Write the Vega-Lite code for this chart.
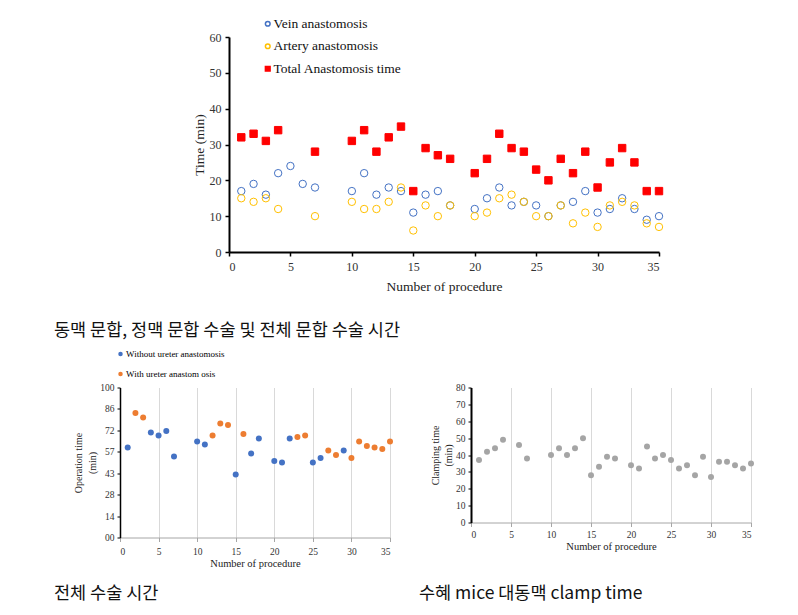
{
  "$schema": "https://vega.github.io/schema/vega-lite/v6.json",
  "background": "white",
  "padding": {"left": 54, "top": 17, "right": 5, "bottom": 5},
  "autosize": {"type": "pad"},
  "config": {
    "view": {"stroke": null},
    "font": "Liberation Serif",
    "axis": {"labelFont": "Liberation Serif", "titleFont": "Liberation Serif", "titleFontWeight": "normal", "labelColor": "#333333", "titleColor": "#222222"},
    "legend": {"labelFont": "Liberation Serif", "labelColor": "#111111", "padding": 0},
    "title": {"font": "Noto Sans CJK KR", "fontWeight": "normal", "color": "#111111", "fontSize": 17.5, "orient": "bottom", "anchor": "start", "frame": "group"}
  },
  "datasets": {
    "anast": [
      {"n": 1, "s": "Vein anastomosis", "t": 17}, {"n": 2, "s": "Vein anastomosis", "t": 19}, {"n": 3, "s": "Vein anastomosis", "t": 16}, {"n": 4, "s": "Vein anastomosis", "t": 22}, {"n": 5, "s": "Vein anastomosis", "t": 24}, {"n": 6, "s": "Vein anastomosis", "t": 19}, {"n": 7, "s": "Vein anastomosis", "t": 18}, {"n": 10, "s": "Vein anastomosis", "t": 17}, {"n": 11, "s": "Vein anastomosis", "t": 22}, {"n": 12, "s": "Vein anastomosis", "t": 16}, {"n": 13, "s": "Vein anastomosis", "t": 18}, {"n": 14, "s": "Vein anastomosis", "t": 17}, {"n": 15, "s": "Vein anastomosis", "t": 11}, {"n": 16, "s": "Vein anastomosis", "t": 16}, {"n": 17, "s": "Vein anastomosis", "t": 17}, {"n": 18, "s": "Vein anastomosis", "t": 13}, {"n": 20, "s": "Vein anastomosis", "t": 12}, {"n": 21, "s": "Vein anastomosis", "t": 15}, {"n": 22, "s": "Vein anastomosis", "t": 18}, {"n": 23, "s": "Vein anastomosis", "t": 13}, {"n": 24, "s": "Vein anastomosis", "t": 14}, {"n": 25, "s": "Vein anastomosis", "t": 13}, {"n": 26, "s": "Vein anastomosis", "t": 10}, {"n": 27, "s": "Vein anastomosis", "t": 13}, {"n": 28, "s": "Vein anastomosis", "t": 14}, {"n": 29, "s": "Vein anastomosis", "t": 17}, {"n": 30, "s": "Vein anastomosis", "t": 11}, {"n": 31, "s": "Vein anastomosis", "t": 12}, {"n": 32, "s": "Vein anastomosis", "t": 15}, {"n": 33, "s": "Vein anastomosis", "t": 12}, {"n": 34, "s": "Vein anastomosis", "t": 9}, {"n": 35, "s": "Vein anastomosis", "t": 10},
      {"n": 1, "s": "Artery anastomosis", "t": 15}, {"n": 2, "s": "Artery anastomosis", "t": 14}, {"n": 3, "s": "Artery anastomosis", "t": 15}, {"n": 4, "s": "Artery anastomosis", "t": 12}, {"n": 7, "s": "Artery anastomosis", "t": 10}, {"n": 10, "s": "Artery anastomosis", "t": 14}, {"n": 11, "s": "Artery anastomosis", "t": 12}, {"n": 12, "s": "Artery anastomosis", "t": 12}, {"n": 13, "s": "Artery anastomosis", "t": 14}, {"n": 14, "s": "Artery anastomosis", "t": 18}, {"n": 15, "s": "Artery anastomosis", "t": 6}, {"n": 16, "s": "Artery anastomosis", "t": 13}, {"n": 17, "s": "Artery anastomosis", "t": 10}, {"n": 18, "s": "Artery anastomosis", "t": 13}, {"n": 20, "s": "Artery anastomosis", "t": 10}, {"n": 21, "s": "Artery anastomosis", "t": 11}, {"n": 22, "s": "Artery anastomosis", "t": 15}, {"n": 23, "s": "Artery anastomosis", "t": 16}, {"n": 24, "s": "Artery anastomosis", "t": 14}, {"n": 25, "s": "Artery anastomosis", "t": 10}, {"n": 26, "s": "Artery anastomosis", "t": 10}, {"n": 27, "s": "Artery anastomosis", "t": 13}, {"n": 28, "s": "Artery anastomosis", "t": 8}, {"n": 29, "s": "Artery anastomosis", "t": 11}, {"n": 30, "s": "Artery anastomosis", "t": 7}, {"n": 31, "s": "Artery anastomosis", "t": 13}, {"n": 32, "s": "Artery anastomosis", "t": 14}, {"n": 33, "s": "Artery anastomosis", "t": 13}, {"n": 34, "s": "Artery anastomosis", "t": 8}, {"n": 35, "s": "Artery anastomosis", "t": 7},
      {"n": 1, "s": "Total Anastomosis time", "t": 32}, {"n": 2, "s": "Total Anastomosis time", "t": 33}, {"n": 3, "s": "Total Anastomosis time", "t": 31}, {"n": 4, "s": "Total Anastomosis time", "t": 34}, {"n": 7, "s": "Total Anastomosis time", "t": 28}, {"n": 10, "s": "Total Anastomosis time", "t": 31}, {"n": 11, "s": "Total Anastomosis time", "t": 34}, {"n": 12, "s": "Total Anastomosis time", "t": 28}, {"n": 13, "s": "Total Anastomosis time", "t": 32}, {"n": 14, "s": "Total Anastomosis time", "t": 35}, {"n": 15, "s": "Total Anastomosis time", "t": 17}, {"n": 16, "s": "Total Anastomosis time", "t": 29}, {"n": 17, "s": "Total Anastomosis time", "t": 27}, {"n": 18, "s": "Total Anastomosis time", "t": 26}, {"n": 20, "s": "Total Anastomosis time", "t": 22}, {"n": 21, "s": "Total Anastomosis time", "t": 26}, {"n": 22, "s": "Total Anastomosis time", "t": 33}, {"n": 23, "s": "Total Anastomosis time", "t": 29}, {"n": 24, "s": "Total Anastomosis time", "t": 28}, {"n": 25, "s": "Total Anastomosis time", "t": 23}, {"n": 26, "s": "Total Anastomosis time", "t": 20}, {"n": 27, "s": "Total Anastomosis time", "t": 26}, {"n": 28, "s": "Total Anastomosis time", "t": 22}, {"n": 29, "s": "Total Anastomosis time", "t": 28}, {"n": 30, "s": "Total Anastomosis time", "t": 18}, {"n": 31, "s": "Total Anastomosis time", "t": 25}, {"n": 32, "s": "Total Anastomosis time", "t": 29}, {"n": 33, "s": "Total Anastomosis time", "t": 25}, {"n": 34, "s": "Total Anastomosis time", "t": 17}, {"n": 35, "s": "Total Anastomosis time", "t": 17}
    ],
    "optime": [
      {"n": 1, "g": "Without ureter anastomosis", "t": 60}, {"n": 4, "g": "Without ureter anastomosis", "t": 70}, {"n": 5, "g": "Without ureter anastomosis", "t": 68}, {"n": 6, "g": "Without ureter anastomosis", "t": 71}, {"n": 7, "g": "Without ureter anastomosis", "t": 54}, {"n": 10, "g": "Without ureter anastomosis", "t": 64}, {"n": 11, "g": "Without ureter anastomosis", "t": 62}, {"n": 15, "g": "Without ureter anastomosis", "t": 42}, {"n": 17, "g": "Without ureter anastomosis", "t": 56}, {"n": 18, "g": "Without ureter anastomosis", "t": 66}, {"n": 20, "g": "Without ureter anastomosis", "t": 51}, {"n": 21, "g": "Without ureter anastomosis", "t": 50}, {"n": 22, "g": "Without ureter anastomosis", "t": 66}, {"n": 25, "g": "Without ureter anastomosis", "t": 50}, {"n": 26, "g": "Without ureter anastomosis", "t": 53}, {"n": 29, "g": "Without ureter anastomosis", "t": 58},
      {"n": 2, "g": "With ureter anastom osis", "t": 83}, {"n": 3, "g": "With ureter anastom osis", "t": 80}, {"n": 12, "g": "With ureter anastom osis", "t": 68}, {"n": 13, "g": "With ureter anastom osis", "t": 76}, {"n": 14, "g": "With ureter anastom osis", "t": 75}, {"n": 16, "g": "With ureter anastom osis", "t": 69}, {"n": 23, "g": "With ureter anastom osis", "t": 67}, {"n": 24, "g": "With ureter anastom osis", "t": 68}, {"n": 27, "g": "With ureter anastom osis", "t": 58}, {"n": 28, "g": "With ureter anastom osis", "t": 55}, {"n": 30, "g": "With ureter anastom osis", "t": 53}, {"n": 31, "g": "With ureter anastom osis", "t": 64}, {"n": 32, "g": "With ureter anastom osis", "t": 61}, {"n": 33, "g": "With ureter anastom osis", "t": 60}, {"n": 34, "g": "With ureter anastom osis", "t": 59}, {"n": 35, "g": "With ureter anastom osis", "t": 64}
    ],
    "clamp": [
      {"n": 1, "t": 37}, {"n": 2, "t": 42}, {"n": 3, "t": 44}, {"n": 4, "t": 49}, {"n": 6, "t": 46}, {"n": 7, "t": 38}, {"n": 10, "t": 40}, {"n": 11, "t": 44}, {"n": 12, "t": 40}, {"n": 13, "t": 44}, {"n": 14, "t": 50}, {"n": 15, "t": 28}, {"n": 16, "t": 33}, {"n": 17, "t": 39}, {"n": 18, "t": 38}, {"n": 20, "t": 34}, {"n": 21, "t": 32}, {"n": 22, "t": 45}, {"n": 23, "t": 38}, {"n": 24, "t": 40}, {"n": 25, "t": 37}, {"n": 26, "t": 32}, {"n": 27, "t": 34}, {"n": 28, "t": 28}, {"n": 29, "t": 39}, {"n": 30, "t": 27}, {"n": 31, "t": 36}, {"n": 32, "t": 36}, {"n": 33, "t": 34}, {"n": 34, "t": 32}, {"n": 35, "t": 35}
    ]
  },
  "spacing": 10.5,
  "resolve": {
    "scale": {"color": "independent", "shape": "independent", "stroke": "independent", "fill": "independent"},
    "legend": {"color": "independent", "shape": "independent", "stroke": "independent", "fill": "independent"}
  },
  "vconcat": [
    {
      "bounds": "flush",
      "align": "none",
      "spacing": 81,
      "resolve": {
        "scale": {"color": "independent", "shape": "independent", "stroke": "independent", "fill": "independent"},
        "legend": {"color": "independent", "shape": "independent", "stroke": "independent", "fill": "independent"}
      },
      "hconcat": [
        {"width": 28, "height": 1, "data": {"values": []}, "mark": "point", "encoding": {}},
        {
          "width": 430,
          "height": 215,
          "data": {"name": "anast"},
          "title": {"text": "동맥 문합, 정맥 문합 수술 및 전체 문합 수술 시간", "dx": -175, "offset": 29},
          "mark": {"type": "point", "opacity": 1, "strokeWidth": 1, "size": 55},
          "encoding": {
            "x": {"field": "n", "type": "quantitative", "scale": {"domain": [0, 35], "nice": false},
              "axis": {"values": [0, 5, 10, 15, 20, 25, 30, 35], "title": "Number of procedure", "grid": false, "domainColor": "#000000", "domainWidth": 2, "tickColor": "#000000", "tickWidth": 1.5, "tickSize": 4, "labelFontSize": 12, "titleFontSize": 13.5, "titlePadding": 7, "labelPadding": 5}},
            "y": {"field": "t", "type": "quantitative", "scale": {"domain": [0, 60], "nice": false},
              "axis": {"values": [0, 10, 20, 30, 40, 50, 60], "title": "Time  (min)", "grid": false, "domainColor": "#000000", "domainWidth": 2, "tickColor": "#000000", "tickWidth": 1.5, "tickSize": 4, "labelFontSize": 12, "titleFontSize": 13.5, "titlePadding": 3, "labelPadding": 4}},
            "shape": {"field": "s", "type": "nominal", "scale": {"domain": ["Vein anastomosis", "Artery anastomosis", "Total Anastomosis time"], "range": ["circle", "circle", "square"]},
              "legend": {"title": null, "orient": "none", "legendX": 32, "legendY": -20, "labelFontSize": 13.5, "symbolSize": 22, "rowPadding": 7.5, "labelOffset": -1}},
            "stroke": {"field": "s", "type": "nominal", "scale": {"domain": ["Vein anastomosis", "Artery anastomosis", "Total Anastomosis time"], "range": ["#4472C4", "#FFC000", "#FF0000"]}},
            "fill": {"field": "s", "type": "nominal", "scale": {"domain": ["Vein anastomosis", "Artery anastomosis", "Total Anastomosis time"], "range": ["transparent", "transparent", "#FF0000"]}}
          }
        }
      ]
    },
    {
      "bounds": "flush",
      "align": "none",
      "spacing": 81,
      "resolve": {
        "scale": {"color": "independent"},
        "legend": {"color": "independent"}
      },
      "hconcat": [
        {
          "width": 270,
          "height": 150,
          "data": {"name": "optime"},
          "title": {"text": "전체 수술 시간", "dx": -66, "offset": 16},
          "mark": {"type": "point", "filled": true, "size": 36, "opacity": 1},
          "encoding": {
            "x": {"field": "n", "type": "quantitative", "scale": {"domain": [0, 35], "nice": false},
              "axis": {"values": [0, 5, 10, 15, 20, 25, 30, 35], "title": "Number of procedure", "grid": true, "gridColor": "#d9d9d9", "domainColor": "#a6a6a6", "tickColor": "#a6a6a6", "tickSize": 4, "labelFontSize": 9.5, "titleFontSize": 10.5, "titlePadding": 2, "labelPadding": 5}},
            "y": {"field": "t", "type": "quantitative", "scale": {"domain": [0, 100], "nice": false},
              "axis": {"values": [0, 14.2857, 28.5714, 42.8571, 57.1429, 71.4286, 85.7143, 100], "labelExpr": "['00','14','28','43','57','72','86','100'][round(datum.value * 7 / 100)]", "title": ["Operation time", "(min)"], "grid": false, "domainColor": "#000000", "domainWidth": 1.5, "tickColor": "#000000", "tickSize": 3, "labelFontSize": 9.5, "titleFontSize": 10, "titlePadding": 2, "labelPadding": 3, "titleLineHeight": 14}},
            "color": {"field": "g", "type": "nominal", "scale": {"domain": ["Without ureter anastomosis", "With ureter anastom osis"], "range": ["#4472C4", "#ED7D31"]},
              "legend": {"title": null, "orient": "none", "legendX": -4, "legendY": -38, "labelFontSize": 9, "symbolSize": 20, "rowPadding": 10, "labelOffset": 1, "labelColor": "#000000"}}
          }
        },
        {
          "width": 280,
          "height": 135,
          "data": {"name": "clamp"},
          "title": {"text": "수혜 mice 대동맥 clamp time", "dx": -52, "offset": 33},
          "mark": {"type": "point", "filled": true, "size": 36, "opacity": 1, "color": "#A5A5A5"},
          "encoding": {
            "x": {"field": "n", "type": "quantitative", "scale": {"domain": [0, 35], "nice": false},
              "axis": {"values": [0, 5, 10, 15, 20, 25, 30, 35], "title": "Number of procedure", "grid": true, "gridColor": "#d9d9d9", "domainColor": "#a6a6a6", "tickColor": "#a6a6a6", "tickSize": 4, "labelFontSize": 9.5, "titleFontSize": 10.5, "titlePadding": 2, "labelPadding": 3}},
            "y": {"field": "t", "type": "quantitative", "scale": {"domain": [0, 80], "nice": false},
              "axis": {"values": [0, 10, 20, 30, 40, 50, 60, 70, 80], "title": ["Clamping  time", "(min)"], "grid": false, "domainColor": "#000000", "domainWidth": 2, "tickColor": "#000000", "tickSize": 3, "labelFontSize": 9.5, "titleFontSize": 10, "titlePadding": 2, "labelPadding": 3, "titleLineHeight": 13}}
          }
        }
      ]
    }
  ]
}
